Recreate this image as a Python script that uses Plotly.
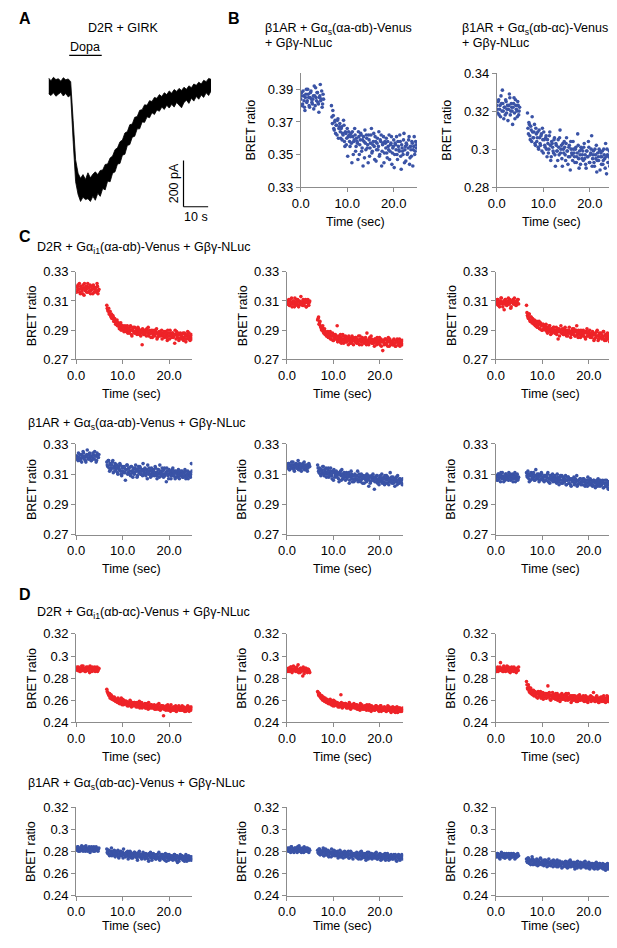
import numpy as np
import plotly.graph_objects as go

# page is 617x948; the html body keeps an 8px margin, so the figure sits at (8, 8)
PAGE_OFF = 8
W, H = 609, 932
BLUE = "#3A53A6"
RED = "#EE2328"
AXIS = "#8C8C8C"
FONT = "Arial, Liberation Sans, sans-serif"

# sampling times (s): before the agonist, and after it was added (two interleaved reads)
T_BASE = np.round(np.arange(0.0, 4.81, 0.2), 1)
T_DRUG = np.round(np.arange(6.6, 24.81, 0.2), 1)
T_BASE2 = T_BASE + 0.1
T_DRUG2 = T_DRUG + 0.1

# --- panel A: GIRK current envelope (pA), one value per second ---
T_A = list(range(67))
A_UPPER = [34, 22, 37, 27, 31, 20, 35, 26, 30, 18,
           -150, -320, -378, -400, -384, -405, -376, -398, -382, -372,
           -384, -366, -364, -340, -338, -312, -304, -276, -268, -242,
           -234, -204, -198, -168, -165, -136, -133, -106, -103, -82,
           -84, -64, -68, -50, -54, -38, -46, -30, -38, -22,
           -32, -16, -24, -11, -20, -6, -15, 0, -8, 8,
           2, 16, 8, 24, 18, 32, 28]
A_LOWER = [-34, -42, -30, -45, -36, -28, -44, -33, -48, -40,
           -240, -415, -470, -500, -482, -492, -488, -500, -478, -495,
           -465, -478, -444, -450, -412, -415, -378, -372, -338, -336,
           -300, -296, -258, -254, -222, -218, -186, -186, -156, -158,
           -134, -138, -116, -124, -104, -110, -92, -102, -84, -96,
           -80, -92, -72, -84, -95, -72, -62, -76, -54, -66,
           -46, -58, -40, -50, -30, -42, -22]
DOPA_ON, DOPA_OFF = 8.4, 21.6
SCALE_T, SCALE_I = 10, 200

# --- BRET ratios, in thousandths ---
B1_BASE = [384, 388, 381, 386, 379, 385, 390, 383, 387, 380, 385, 389, 382, 384, 378,
           386, 391, 383, 388, 381, 385, 393, 384, 379, 387]
B1_BASE2 = [386, 380, 389, 383, 377, 387, 382, 390, 385, 379, 388, 384, 381, 386, 392,
            380, 385, 388, 382, 376, 386, 383, 389, 381, 384]
B1_DRUG = [380, 369, 374, 365, 371, 368, 362, 372, 366, 369,
           360, 367, 363, 371, 358, 364, 356, 366, 361, 362,
           355, 363, 345, 361, 358, 366, 352, 360, 357, 364,
           350, 359, 362, 354, 343, 358, 365, 353, 360, 356,
           362, 349, 357, 366, 352, 358, 355, 361, 346, 357,
           353, 364, 350, 358, 343, 356, 361, 351, 357, 360,
           348, 355, 362, 352, 357, 344, 354, 359, 350, 356,
           361, 347, 355, 352, 358, 341, 354, 350, 363, 353,
           346, 356, 351, 359, 344, 355, 349, 357, 353, 361,
           352, 356]
B1_DRUG2 = [373, 377, 366, 370, 363, 368, 371, 360, 367, 364,
            366, 359, 362, 368, 355, 363, 360, 349, 364, 358,
            361, 357, 364, 350, 359, 362, 355, 358, 347, 361,
            356, 363, 352, 359, 361, 348, 357, 362, 354, 345,
            359, 354, 362, 351, 356, 363, 347, 358, 353, 360,
            355, 349, 359, 362, 352, 357, 345, 358, 354, 351,
            358, 353, 347, 356, 361, 351, 355, 342, 357, 353,
            350, 358, 353, 362, 349, 356, 352, 359, 345, 355,
            357, 350, 354, 361, 348, 353, 358, 343, 355, 350,
            358, 354]

B2_BASE = [323, 319, 326, 321, 317, 324, 331, 320, 322, 318, 325, 321, 315, 323, 327,
           320, 322, 313, 324, 319, 326, 321, 317, 323, 320]
B2_BASE2 = [321, 325, 318, 323, 328, 320, 324, 316, 322, 326, 319, 323, 321, 329, 318,
            324, 320, 322, 327, 316, 323, 320, 325, 318, 322]
B2_DRUG = [319, 308, 313, 305, 310, 317, 306, 309, 303, 311,
           304, 309, 300, 306, 302, 308, 311, 298, 305, 301,
           307, 296, 303, 300, 309, 294, 304, 301, 298, 306,
           291, 302, 299, 305, 297, 310, 300, 295, 303, 298,
           301, 294, 306, 299, 296, 302, 289, 300, 297, 304,
           298, 293, 301, 296, 308, 295, 299, 292, 300, 297,
           294, 303, 297, 290, 299, 296, 301, 293, 298, 307,
           295, 299, 291, 297, 302, 294, 296, 300, 289, 298,
           296, 292, 300, 295, 303, 287, 297, 293, 299, 295,
           301, 294]
B2_DRUG2 = [311, 314, 307, 312, 304, 309, 306, 313, 302, 308,
            306, 301, 310, 303, 307, 299, 305, 309, 302, 306,
            300, 305, 298, 307, 302, 296, 303, 299, 305, 297,
            303, 299, 294, 301, 306, 298, 302, 291, 300, 304,
            297, 303, 299, 292, 301, 296, 304, 298, 294, 300,
            296, 300, 293, 298, 302, 290, 297, 301, 295, 299,
            301, 295, 292, 299, 296, 304, 293, 297, 300, 291,
            297, 293, 300, 295, 288, 298, 294, 299, 296, 292,
            299, 294, 297, 290, 296, 300, 293, 296, 291, 298,
            294, 297]

C1_BASE = [319, 317, 321, 318, 316, 320, 318, 315, 319, 322, 317, 318, 320, 316, 319,
           321, 317, 318, 315, 320, 318, 319, 316, 320, 317]
C1_BASE2 = [316, 320, 318, 322, 315, 319, 317, 321, 314, 318, 320, 316, 322, 319, 317,
            315, 320, 318, 321, 316, 319, 317, 322, 315, 318]
C1_DRUG = [307, 304, 305, 302, 300, 301, 298, 299, 297, 296,
           295, 297, 293, 294, 292, 295, 291, 293, 290, 292,
           291, 289, 293, 290, 288, 292, 290, 286, 291, 289,
           292, 288, 290, 289, 291, 287, 290, 288, 280, 289,
           290, 287, 289, 291, 288, 286, 290, 288, 289, 285,
           288, 290, 287, 289, 284, 288, 286, 289, 287, 290,
           286, 288, 285, 289, 287, 283, 288, 286, 290, 287,
           285, 288, 286, 281, 287, 289, 285, 287, 284, 288,
           286, 284, 288, 285, 287, 282, 286, 289, 284, 286,
           285, 287]
C1_DRUG2 = [305, 303, 301, 303, 299, 298, 300, 296, 298, 294,
            296, 293, 295, 291, 294, 290, 293, 292, 289, 293,
            290, 292, 288, 291, 289, 293, 287, 290, 292, 288,
            289, 291, 287, 292, 288, 290, 286, 289, 291, 287,
            288, 290, 286, 289, 292, 287, 288, 285, 290, 287,
            289, 286, 288, 291, 285, 287, 289, 286, 288, 284,
            287, 289, 286, 288, 285, 290, 286, 284, 288, 286,
            288, 285, 287, 290, 284, 286, 288, 283, 287, 285,
            287, 285, 283, 288, 286, 284, 287, 285, 288, 283,
            286, 284]

C2_BASE = [310, 308, 311, 307, 309, 312, 308, 310, 306, 309, 311, 308, 310, 307, 309,
           313, 308, 310, 307, 309, 311, 306, 310, 308, 309]
C2_BASE2 = [308, 310, 307, 311, 309, 306, 310, 308, 312, 307, 309, 311, 306, 310, 308,
            309, 307, 311, 308, 310, 306, 309, 311, 307, 310]
C2_DRUG = [297, 299, 295, 293, 291, 292, 289, 290, 287, 288,
           286, 289, 285, 287, 284, 286, 288, 283, 285, 287,
           284, 293, 283, 286, 282, 285, 283, 287, 281, 284,
           286, 282, 284, 280, 285, 283, 281, 286, 283, 284,
           282, 285, 281, 283, 286, 280, 284, 282, 285, 283,
           281, 284, 282, 288, 283, 280, 285, 282, 284, 281,
           283, 279, 284, 282, 285, 281, 283, 280, 284, 282,
           276, 283, 281, 284, 280, 282, 285, 279, 283, 281,
           282, 280, 284, 281, 279, 283, 282, 280, 284, 281,
           282, 280]
C2_DRUG2 = [298, 294, 296, 292, 290, 293, 288, 291, 289, 286,
            288, 285, 287, 289, 284, 286, 283, 287, 285, 284,
            286, 282, 285, 284, 287, 281, 284, 286, 283, 285,
            282, 285, 283, 286, 281, 284, 282, 285, 280, 283,
            285, 282, 284, 281, 283, 286, 282, 280, 284, 282,
            283, 285, 280, 283, 281, 284, 282, 286, 281, 283,
            281, 284, 282, 280, 283, 281, 285, 282, 279, 283,
            282, 280, 284, 281, 283, 279, 282, 284, 280, 282,
            280, 283, 281, 279, 282, 284, 280, 282, 279, 283,
            281, 283]

C3_BASE = [310, 308, 311, 309, 306, 310, 312, 308, 309, 304, 311, 309, 307, 310, 308,
           311, 305, 309, 310, 308, 312, 309, 307, 310, 311]
C3_BASE2 = [309, 311, 307, 310, 308, 312, 309, 306, 310, 308, 311, 307, 309, 312, 308,
            310, 306, 309, 311, 308, 310, 307, 309, 311, 308]
C3_DRUG = [307, 300, 298, 301, 296, 299, 295, 297, 294, 296,
           293, 296, 292, 294, 291, 295, 293, 290, 294, 292,
           291, 294, 289, 292, 290, 293, 287, 291, 289, 292,
           290, 288, 292, 289, 284, 291, 289, 293, 288, 290,
           287, 291, 289, 286, 290, 288, 292, 289, 287, 290,
           288, 291, 286, 289, 293, 287, 290, 288, 285, 289,
           287, 290, 288, 285, 289, 291, 286, 288, 290, 287,
           285, 289, 287, 284, 288, 286, 290, 283, 287, 285,
           288, 284, 286, 289, 283, 287, 285, 288, 284, 286,
           285, 288]
C3_DRUG2 = [302, 299, 301, 297, 299, 296, 298, 295, 297, 293,
            295, 292, 294, 296, 291, 293, 290, 294, 291, 293,
            290, 292, 288, 291, 293, 289, 291, 288, 290, 292,
            288, 290, 287, 291, 289, 286, 290, 288, 291, 287,
            289, 292, 287, 289, 286, 290, 288, 285, 289, 291,
            287, 289, 286, 290, 288, 285, 289, 287, 290, 286,
            288, 286, 289, 284, 288, 286, 289, 287, 285, 288,
            286, 288, 283, 287, 285, 289, 286, 284, 288, 285,
            287, 285, 289, 284, 286, 283, 287, 285, 286, 282,
            286, 284]

C4_BASE = [320, 322, 319, 321, 323, 320, 318, 322, 324, 321, 319, 322, 326, 320, 323,
           321, 319, 322, 324, 320, 325, 322, 319, 323, 321]
C4_BASE2 = [322, 320, 324, 321, 319, 323, 321, 325, 320, 322, 318, 323, 321, 320, 324,
            322, 319, 321, 323, 320, 322, 318, 324, 321, 323]
C4_DRUG = [318, 315, 319, 312, 316, 314, 318, 311, 315, 317,
           313, 316, 310, 314, 317, 312, 309, 315, 311, 314,
           306, 313, 316, 311, 314, 310, 315, 312, 308, 314,
           311, 316, 313, 309, 315, 312, 314, 310, 313, 317,
           311, 314, 309, 313, 316, 310, 312, 308, 314, 311,
           313, 309, 315, 311, 307, 313, 310, 316, 312, 309,
           312, 308, 314, 310, 305, 312, 309, 313, 311, 307,
           311, 314, 309, 312, 308, 311, 310, 313, 307, 311,
           309, 312, 308, 311, 313, 307, 310, 312, 309, 311,
           308, 317]
C4_DRUG2 = [316, 319, 314, 317, 313, 316, 319, 314, 312, 316,
            314, 311, 315, 313, 316, 310, 314, 312, 315, 311,
            313, 316, 310, 314, 312, 309, 315, 311, 313, 310,
            314, 312, 308, 313, 311, 315, 310, 312, 309, 313,
            310, 313, 311, 307, 312, 314, 310, 313, 309, 311,
            312, 310, 314, 309, 311, 313, 308, 311, 310, 314,
            310, 313, 309, 311, 314, 310, 307, 312, 310, 309,
            313, 309, 311, 307, 312, 310, 308, 311, 309, 312,
            310, 308, 311, 309, 312, 308, 310, 307, 311, 309,
            310, 312]

C5_BASE = [316, 314, 317, 313, 315, 318, 314, 316, 312, 315, 317, 314, 319, 315, 313,
           316, 314, 317, 315, 313, 316, 314, 312, 315, 316]
C5_BASE2 = [315, 317, 313, 316, 314, 316, 318, 313, 315, 317, 314, 316, 313, 317, 315,
            312, 316, 314, 318, 315, 313, 316, 314, 317, 315]
C5_DRUG = [316, 312, 314, 310, 313, 311, 315, 309, 312, 314,
           310, 313, 308, 311, 314, 309, 312, 306, 311, 309,
           312, 308, 310, 305, 311, 309, 313, 307, 310, 308,
           306, 311, 308, 310, 304, 309, 312, 307, 309, 305,
           310, 307, 309, 312, 306, 308, 305, 310, 307, 309,
           304, 308, 306, 310, 307, 302, 308, 305, 309, 307,
           306, 300, 308, 305, 309, 306, 303, 308, 306, 310,
           305, 308, 303, 307, 309, 304, 307, 305, 311, 306,
           304, 308, 306, 302, 307, 305, 309, 304, 307, 305,
           306, 303]
C5_DRUG2 = [314, 311, 313, 309, 312, 315, 310, 313, 311, 308,
            311, 314, 309, 312, 310, 307, 311, 313, 308, 310,
            309, 311, 307, 310, 312, 306, 310, 308, 311, 309,
            310, 307, 309, 311, 306, 308, 310, 305, 309, 307,
            306, 309, 307, 305, 310, 308, 306, 309, 304, 308,
            307, 309, 305, 307, 309, 306, 304, 308, 306, 310,
            308, 305, 307, 309, 304, 307, 305, 309, 307, 304,
            307, 305, 309, 304, 306, 308, 303, 307, 305, 308,
            306, 304, 307, 305, 308, 303, 306, 304, 307, 305,
            304, 307]

C6_BASE = [307, 309, 306, 310, 308, 305, 309, 311, 307, 308, 306, 310, 308, 307, 311,
           309, 306, 308, 310, 307, 309, 305, 308, 310, 307]
C6_BASE2 = [308, 306, 310, 307, 309, 311, 307, 308, 305, 309, 310, 307, 309, 306, 308,
            310, 307, 309, 305, 308, 311, 307, 309, 306, 308]
C6_DRUG = [311, 308, 310, 305, 309, 311, 307, 310, 308, 306,
           313, 309, 307, 310, 306, 309, 311, 307, 308, 305,
           309, 306, 308, 311, 307, 304, 309, 307, 310, 306,
           308, 305, 307, 310, 306, 303, 308, 306, 309, 304,
           307, 305, 309, 303, 306, 308, 304, 307, 302, 306,
           305, 308, 304, 306, 309, 303, 306, 304, 307, 305,
           303, 307, 305, 302, 306, 304, 308, 305, 303, 306,
           304, 302, 306, 305, 301, 305, 303, 307, 304, 302,
           305, 303, 306, 301, 304, 302, 306, 303, 300, 305,
           303, 306]
C6_DRUG2 = [309, 312, 307, 310, 306, 309, 308, 311, 306, 309,
            307, 310, 308, 305, 309, 307, 310, 306, 308, 309,
            306, 308, 310, 305, 307, 309, 306, 308, 305, 307,
            309, 306, 304, 308, 305, 307, 309, 304, 306, 308,
            305, 307, 303, 306, 308, 304, 306, 303, 307, 305,
            306, 303, 307, 305, 302, 306, 304, 307, 303, 305,
            305, 307, 303, 306, 304, 302, 306, 304, 307, 303,
            305, 303, 306, 302, 304, 306, 302, 305, 303, 306,
            303, 305, 301, 304, 306, 302, 304, 301, 305, 303,
            304, 302]

D1_BASE = [288, 290, 287, 289, 286, 288, 291, 287, 289, 288, 286, 290, 288, 287, 289,
           291, 288, 286, 289, 287, 290, 288, 289, 286, 288]
D1_BASE2 = [289, 287, 290, 288, 286, 289, 287, 291, 288, 286, 289, 287, 290, 288, 285,
            289, 288, 290, 287, 289, 286, 288, 290, 287, 289]
D1_DRUG = [270, 267, 265, 266, 263, 264, 262, 261, 263, 260,
           261, 259, 262, 258, 260, 257, 259, 261, 256, 258,
           257, 259, 255, 258, 256, 260, 257, 255, 258, 256,
           258, 255, 257, 254, 256, 259, 255, 257, 253, 256,
           255, 257, 253, 256, 254, 258, 255, 253, 256, 254,
           253, 256, 254, 252, 255, 253, 257, 254, 252, 255,
           253, 246, 254, 252, 255, 253, 251, 254, 252, 256,
           253, 251, 254, 252, 255, 250, 253, 252, 254, 251,
           253, 255, 251, 254, 252, 250, 253, 255, 251, 253,
           252, 254]
D1_DRUG2 = [268, 266, 264, 262, 265, 261, 263, 260, 262, 259,
            260, 258, 261, 257, 259, 262, 256, 258, 260, 257,
            259, 256, 258, 255, 257, 259, 254, 257, 255, 258,
            256, 254, 258, 255, 257, 253, 256, 258, 254, 255,
            256, 253, 255, 257, 252, 255, 254, 256, 253, 255,
            254, 252, 255, 253, 256, 252, 254, 251, 255, 253,
            255, 252, 254, 251, 253, 256, 252, 254, 250, 253,
            252, 254, 251, 253, 250, 254, 252, 255, 251, 253,
            251, 254, 252, 250, 253, 251, 254, 252, 250, 254,
            251, 253]

D2_BASE = [288, 286, 289, 287, 290, 286, 288, 291, 287, 289, 286, 288, 292, 287, 285,
           289, 287, 282, 288, 286, 289, 287, 285, 288, 286]
D2_BASE2 = [287, 289, 286, 288, 290, 285, 288, 287, 289, 286, 290, 287, 285, 288, 289,
            286, 288, 290, 284, 287, 289, 286, 288, 287, 285]
D2_DRUG = [268, 265, 266, 263, 264, 261, 263, 260, 262, 259,
           261, 258, 260, 257, 259, 256, 258, 260, 255, 257,
           256, 258, 254, 257, 255, 265, 256, 254, 257, 255,
           257, 253, 256, 254, 258, 255, 253, 256, 254, 257,
           255, 253, 256, 254, 252, 255, 257, 253, 255, 254,
           252, 255, 253, 256, 254, 251, 254, 253, 255, 252,
           254, 251, 253, 255, 252, 254, 250, 253, 255, 252,
           253, 251, 254, 252, 250, 253, 251, 254, 252, 249,
           252, 254, 250, 253, 251, 254, 249, 252, 253, 250,
           252, 251]
D2_DRUG2 = [267, 264, 265, 262, 264, 260, 262, 259, 261, 258,
            260, 257, 259, 261, 256, 258, 255, 257, 259, 256,
            258, 255, 257, 254, 256, 258, 253, 256, 255, 257,
            254, 256, 253, 255, 257, 252, 255, 254, 256, 253,
            254, 256, 252, 255, 253, 251, 254, 256, 252, 254,
            253, 255, 251, 254, 252, 256, 253, 250, 254, 252,
            253, 251, 255, 252, 254, 251, 253, 255, 250, 253,
            251, 254, 252, 250, 253, 255, 251, 253, 250, 252,
            254, 251, 253, 249, 252, 254, 251, 250, 253, 251,
            250, 253]

D3_BASE = [288, 286, 290, 287, 289, 294, 287, 288, 286, 290, 288, 287, 291, 288, 286,
           289, 287, 290, 288, 286, 289, 287, 285, 288, 287]
D3_BASE2 = [287, 289, 286, 288, 290, 287, 289, 286, 291, 288, 286, 289, 287, 290, 288,
            285, 289, 287, 288, 290, 286, 288, 289, 287, 290]
D3_DRUG = [277, 271, 274, 268, 270, 266, 269, 267, 264, 268,
           265, 267, 262, 266, 264, 268, 263, 265, 261, 266,
           264, 262, 266, 273, 263, 265, 260, 264, 267, 262,
           265, 261, 264, 266, 262, 264, 259, 263, 266, 261,
           263, 265, 260, 264, 262, 266, 261, 263, 258, 264,
           262, 260, 264, 261, 263, 259, 262, 265, 260, 263,
           261, 264, 259, 262, 260, 263, 258, 262, 261, 264,
           260, 262, 267, 261, 259, 263, 260, 262, 258, 261,
           263, 259, 261, 264, 260, 258, 262, 260, 263, 259,
           261, 262]
D3_DRUG2 = [274, 270, 272, 267, 271, 268, 265, 269, 266, 267,
            263, 266, 268, 264, 266, 262, 265, 267, 263, 264,
            266, 262, 265, 263, 267, 261, 264, 262, 265, 263,
            262, 266, 263, 260, 264, 262, 265, 261, 263, 264,
            261, 263, 266, 262, 260, 263, 261, 264, 262, 260,
            264, 261, 263, 259, 262, 264, 260, 263, 261, 262,
            260, 263, 261, 264, 259, 262, 260, 263, 261, 259,
            263, 260, 262, 259, 261, 264, 260, 258, 262, 260,
            261, 263, 259, 262, 260, 261, 264, 259, 261, 260,
            262, 259]

D4_BASE = [283, 281, 284, 282, 280, 283, 285, 281, 282, 284, 280, 283, 281, 282, 284,
           279, 283, 281, 282, 284, 280, 282, 283, 281, 282]
D4_BASE2 = [282, 284, 280, 283, 281, 282, 284, 280, 283, 281, 285, 282, 280, 283, 282,
            281, 284, 282, 280, 283, 281, 284, 282, 280, 283]
D4_DRUG = [282, 278, 281, 276, 280, 283, 277, 279, 281, 275,
           279, 277, 281, 274, 278, 280, 276, 279, 282, 277,
           275, 279, 277, 273, 278, 280, 276, 278, 274, 277,
           279, 275, 278, 272, 277, 280, 275, 277, 274, 279,
           276, 273, 278, 275, 277, 271, 276, 279, 274, 276,
           278, 274, 276, 273, 277, 275, 279, 272, 276, 274,
           277, 273, 275, 278, 271, 276, 274, 277, 273, 275,
           276, 272, 275, 277, 273, 276, 270, 275, 273, 277,
           274, 276, 272, 275, 273, 277, 271, 274, 276, 273,
           275, 272]
D4_DRUG2 = [279, 281, 277, 280, 278, 276, 280, 278, 276, 280,
            277, 280, 275, 278, 276, 279, 277, 274, 278, 276,
            278, 276, 280, 275, 277, 279, 274, 277, 276, 279,
            276, 278, 274, 276, 279, 275, 277, 273, 276, 278,
            275, 277, 274, 276, 273, 278, 275, 277, 272, 276,
            275, 277, 273, 276, 274, 278, 273, 275, 277, 274,
            276, 274, 272, 276, 274, 277, 272, 275, 276, 273,
            275, 273, 277, 274, 272, 276, 274, 271, 275, 274,
            276, 273, 275, 271, 274, 276, 273, 275, 272, 274,
            273, 275]

D5_BASE = [281, 283, 280, 282, 279, 284, 281, 282, 280, 283, 281, 279, 282, 285, 280,
           282, 281, 283, 279, 282, 280, 281, 283, 280, 282]
D5_BASE2 = [282, 280, 283, 281, 284, 280, 282, 279, 283, 281, 282, 284, 280, 281, 283,
            279, 282, 280, 284, 281, 283, 280, 282, 279, 281]
D5_DRUG = [281, 278, 282, 277, 280, 279, 283, 276, 280, 278,
           277, 281, 275, 279, 278, 282, 276, 279, 277, 280,
           276, 279, 274, 278, 281, 277, 275, 279, 277, 280,
           275, 278, 276, 280, 274, 277, 279, 276, 273, 278,
           277, 275, 279, 276, 273, 278, 276, 280, 274, 277,
           275, 278, 272, 277, 275, 279, 276, 274, 278, 275,
           277, 274, 276, 279, 273, 276, 275, 278, 272, 276,
           274, 277, 275, 272, 276, 278, 274, 276, 273, 277,
           275, 273, 277, 274, 276, 271, 275, 277, 273, 276,
           274, 276]
D5_DRUG2 = [279, 282, 277, 280, 278, 281, 276, 279, 282, 277,
            279, 276, 280, 278, 275, 279, 277, 281, 276, 278,
            277, 280, 276, 278, 275, 279, 277, 274, 278, 276,
            279, 276, 278, 274, 277, 280, 275, 277, 276, 278,
            276, 278, 274, 277, 275, 279, 273, 276, 278, 275,
            277, 274, 276, 279, 273, 276, 278, 275, 273, 277,
            275, 278, 274, 276, 273, 277, 275, 274, 277, 273,
            276, 274, 278, 273, 275, 277, 272, 276, 274, 276,
            273, 276, 274, 277, 272, 275, 274, 276, 272, 275,
            277, 273]

D6_BASE = [277, 275, 278, 276, 274, 277, 279, 275, 276, 278, 274, 277, 275, 276, 278,
           273, 276, 277, 275, 278, 276, 274, 277, 275, 276]
D6_BASE2 = [276, 278, 275, 277, 273, 276, 278, 275, 277, 274, 276, 278, 275, 277, 276,
            274, 278, 275, 277, 276, 273, 277, 275, 278, 276]
D6_DRUG = [273, 270, 274, 269, 272, 271, 275, 268, 272, 270,
           269, 273, 267, 271, 270, 274, 268, 271, 269, 272,
           268, 271, 266, 270, 273, 269, 267, 271, 269, 272,
           267, 270, 268, 272, 266, 269, 271, 268, 265, 270,
           269, 267, 271, 268, 265, 270, 268, 272, 266, 269,
           267, 270, 264, 269, 267, 271, 268, 266, 270, 267,
           269, 266, 268, 271, 265, 268, 267, 270, 264, 268,
           266, 269, 267, 264, 268, 270, 266, 268, 265, 269,
           267, 265, 269, 266, 268, 263, 267, 269, 265, 268,
           266, 264]
D6_DRUG2 = [271, 274, 270, 272, 268, 271, 273, 269, 271, 268,
            271, 269, 272, 268, 270, 273, 269, 271, 267, 270,
            272, 269, 271, 267, 270, 268, 271, 269, 266, 270,
            269, 271, 266, 269, 268, 271, 267, 269, 270, 266,
            268, 270, 266, 269, 267, 271, 266, 268, 270, 267,
            269, 266, 268, 270, 265, 268, 267, 269, 265, 268,
            267, 270, 266, 268, 266, 269, 265, 268, 266, 269,
            268, 265, 267, 269, 266, 268, 264, 267, 269, 266,
            266, 268, 264, 267, 265, 268, 266, 264, 267, 265,
            267, 265]

X_TICKS = [0, 10, 20]
X_TICKTEXT = ["0.0", "10.0", "20.0"]
B1_TICKS = ([0.33, 0.35, 0.37, 0.39], ["0.33", "0.35", "0.37", "0.39"])
B2_TICKS = ([0.28, 0.30, 0.32, 0.34], ["0.28", "0.3", "0.32", "0.34"])
C_TICKS = ([0.27, 0.29, 0.31, 0.33], ["0.27", "0.29", "0.31", "0.33"])
D_TICKS = ([0.24, 0.26, 0.28, 0.30, 0.32], ["0.24", "0.26", "0.28", "0.3", "0.32"])


def reads(base, base2, drug, drug2):
    return [(T_BASE, base), (T_BASE2, base2), (T_DRUG, drug), (T_DRUG2, drug2)]


# (left px, top px, bottom px, y range, ticks, colour, readings) -- page pixels
PANELS = [
    (296, 67, 183, [0.33, 0.40], B1_TICKS, BLUE, reads(B1_BASE, B1_BASE2, B1_DRUG, B1_DRUG2)),
    (495, 67, 183, [0.28, 0.34], B2_TICKS, BLUE, reads(B2_BASE, B2_BASE2, B2_DRUG, B2_DRUG2)),
    (68, 269, 358, [0.27, 0.33], C_TICKS, RED, reads(C1_BASE, C1_BASE2, C1_DRUG, C1_DRUG2)),
    (282, 269, 358, [0.27, 0.33], C_TICKS, RED, reads(C2_BASE, C2_BASE2, C2_DRUG, C2_DRUG2)),
    (494, 269, 358, [0.27, 0.33], C_TICKS, RED, reads(C3_BASE, C3_BASE2, C3_DRUG, C3_DRUG2)),
    (68, 444, 536, [0.27, 0.33], C_TICKS, BLUE, reads(C4_BASE, C4_BASE2, C4_DRUG, C4_DRUG2)),
    (282, 444, 536, [0.27, 0.33], C_TICKS, BLUE, reads(C5_BASE, C5_BASE2, C5_DRUG, C5_DRUG2)),
    (494, 444, 536, [0.27, 0.33], C_TICKS, BLUE, reads(C6_BASE, C6_BASE2, C6_DRUG, C6_DRUG2)),
    (68, 637, 727, [0.24, 0.32], D_TICKS, RED, reads(D1_BASE, D1_BASE2, D1_DRUG, D1_DRUG2)),
    (282, 637, 727, [0.24, 0.32], D_TICKS, RED, reads(D2_BASE, D2_BASE2, D2_DRUG, D2_DRUG2)),
    (494, 637, 727, [0.24, 0.32], D_TICKS, RED, reads(D3_BASE, D3_BASE2, D3_DRUG, D3_DRUG2)),
    (68, 813, 903, [0.24, 0.32], D_TICKS, BLUE, reads(D4_BASE, D4_BASE2, D4_DRUG, D4_DRUG2)),
    (282, 813, 903, [0.24, 0.32], D_TICKS, BLUE, reads(D5_BASE, D5_BASE2, D5_DRUG, D5_DRUG2)),
    (494, 813, 903, [0.24, 0.32], D_TICKS, BLUE, reads(D6_BASE, D6_BASE2, D6_DRUG, D6_DRUG2)),
]
PLOT_W = 118


def px(x0, x1):
    return [(x0 - PAGE_OFF) / W, (x1 - PAGE_OFF) / W]


def py(y0, y1):
    return [1 - (y1 - PAGE_OFF) / H, 1 - (y0 - PAGE_OFF) / H]


def text(s, x, y, size=12.5, xanchor="left", angle=0):
    return dict(text=s, x=(x - PAGE_OFF) / W, y=1 - (y - PAGE_OFF) / H,
                xref="paper", yref="paper", xanchor=xanchor, yanchor="middle",
                showarrow=False, textangle=angle,
                font=dict(size=size, color="black", family=FONT))


fig = go.Figure()
axis_style = dict(showline=True, linecolor=AXIS, linewidth=1, ticks="outside", ticklen=4,
                  tickcolor=AXIS, showgrid=False, zeroline=False,
                  tickfont=dict(size=13, color="black", family=FONT))
annotations = []

for k, (x0, top, bot, yr, (tv, tt), color, series) in enumerate(PANELS, start=1):
    sfx = "" if k == 1 else str(k)
    for t, v in series:
        assert len(t) == len(v), k
        fig.add_trace(go.Scatter(
            x=t, y=np.array(v) / 1000, mode="markers", marker=dict(color=color, size=3.6),
            xaxis="x" + sfx, yaxis="y" + sfx, showlegend=False, hoverinfo="skip"))
    fig.layout["xaxis" + sfx] = dict(axis_style, domain=px(x0, x0 + PLOT_W), range=[0, 25],
                                     anchor="y" + sfx, tickvals=X_TICKS, ticktext=X_TICKTEXT)
    fig.layout["yaxis" + sfx] = dict(axis_style, domain=py(top, bot), range=yr,
                                     anchor="x" + sfx, tickvals=tv, ticktext=tt)
    off = 50 if k <= 2 else 45
    annotations.append(text("BRET ratio", x0 - off, (top + bot) / 2, 12.5, "center", -90))
    annotations.append(text("Time (sec)", x0 + PLOT_W / 2 - 3, min(bot + 35, 934), 12.5, "center"))

# panel A: current trace
ka = len(PANELS) + 1
ax, ay = f"x{ka}", f"y{ka}"
fig.add_trace(go.Scatter(x=T_A, y=A_UPPER, mode="lines", line=dict(color="black", width=0.8),
                         xaxis=ax, yaxis=ay, showlegend=False, hoverinfo="skip"))
fig.add_trace(go.Scatter(x=T_A, y=A_LOWER, mode="lines", line=dict(color="black", width=0.8),
                         fill="tonexty", fillcolor="black",
                         xaxis=ax, yaxis=ay, showlegend=False, hoverinfo="skip"))
fig.layout[f"xaxis{ka}"] = dict(domain=px(40, 205), range=[0, 66], visible=False, anchor=ay)
fig.layout[f"yaxis{ka}"] = dict(domain=py(40, 215), range=[-574.5, 170.2], visible=False,
                                anchor=ax)

bar_t, bar_i = 54.8, -523
shapes = [
    dict(type="line", xref=ax, yref=ay, x0=DOPA_ON, x1=DOPA_OFF, y0=132, y1=132,
         line=dict(color="black", width=1.2)),
    dict(type="line", xref=ax, yref=ay, x0=bar_t, x1=bar_t, y0=bar_i, y1=bar_i + SCALE_I,
         line=dict(color="black", width=1.2)),
    dict(type="line", xref=ax, yref=ay, x0=bar_t, x1=bar_t + SCALE_T, y0=bar_i, y1=bar_i,
         line=dict(color="black", width=1.2)),
]
for s, x, y, ang in [("Dopa", (DOPA_ON + DOPA_OFF) / 2, 166, 0),
                     ("200 pA", bar_t - 4, bar_i + SCALE_I / 2, -90),
                     ("10 s", bar_t + SCALE_T / 2, bar_i - 44, 0)]:
    annotations.append(dict(text=s, x=x, y=y, xref=ax, yref=ay, showarrow=False,
                            xanchor="center", yanchor="middle", textangle=ang,
                            font=dict(size=12.5, color="black", family=FONT)))

annotations += [
    text("<b>A</b>", 8, 12, 16),
    text("<b>B</b>", 220, 12, 16),
    text("<b>C</b>", 8, 233, 16),
    text("<b>D</b>", 8, 597, 16),
    text("D2R + GIRK", 116, 21, 12.5, "center"),
    text("β1AR + Gα<sub>s</sub>(αa-αb)-Venus", 258, 22),
    text("+ Gβγ-NLuc", 258, 36),
    text("β1AR + Gα<sub>s</sub>(αb-αc)-Venus", 458, 22),
    text("+ Gβγ-NLuc", 458, 36),
    text("D2R + Gα<sub>i1</sub>(αa-αb)-Venus + Gβγ-NLuc", 26, 245),
    text("β1AR + Gα<sub>s</sub>(αa-αb)-Venus + Gβγ-NLuc", 17, 424),
    text("D2R + Gα<sub>i1</sub>(αb-αc)-Venus + Gβγ-NLuc", 26, 616),
    text("β1AR + Gα<sub>s</sub>(αb-αc)-Venus + Gβγ-NLuc", 17, 790),
]

fig.update_layout(
    width=W, height=H, margin=dict(l=0, r=0, t=0, b=0),
    paper_bgcolor="white", plot_bgcolor="white",
    font=dict(family=FONT, color="black"),
    annotations=annotations, shapes=shapes, showlegend=False,
)
fig.write_html("out.html")
